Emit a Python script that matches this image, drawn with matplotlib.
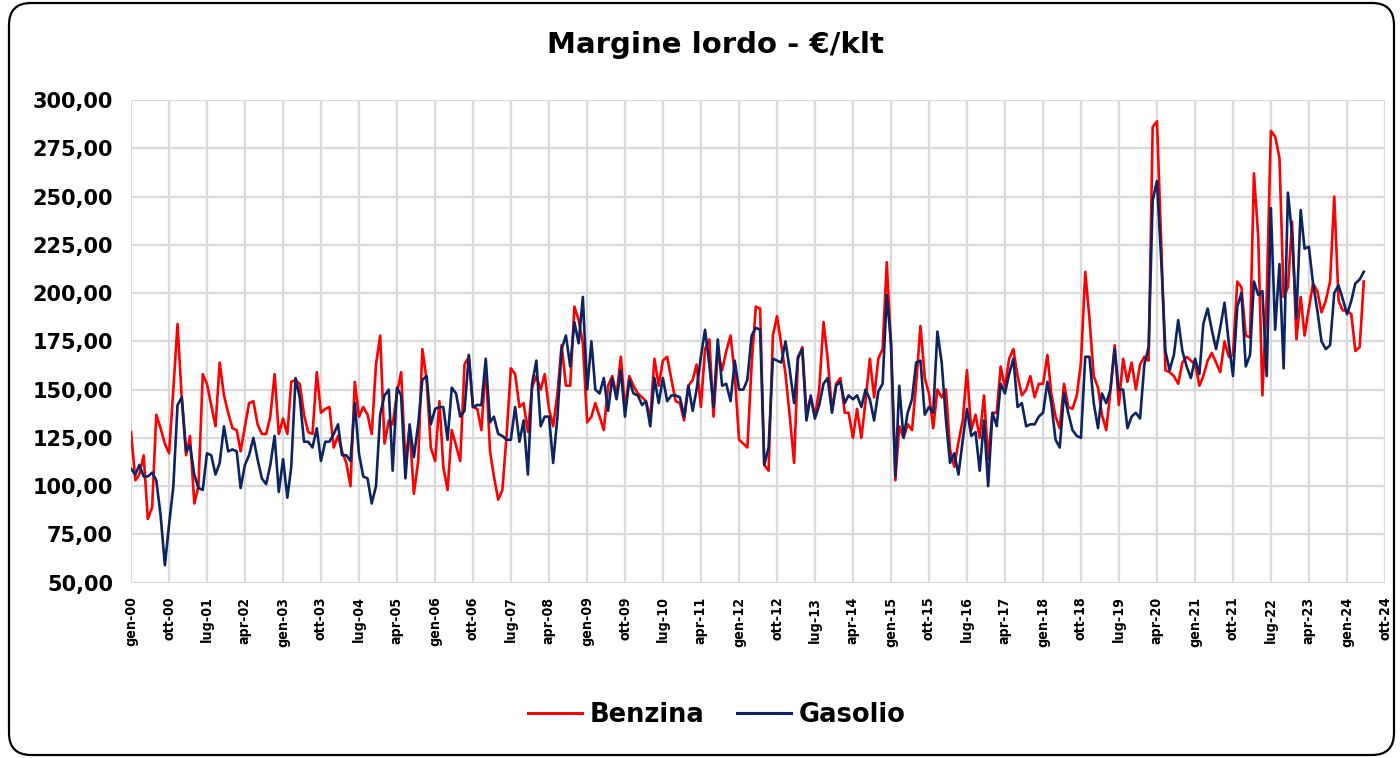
import matplotlib
matplotlib.use('Agg')
import matplotlib.pyplot as plt
from matplotlib.patches import FancyBboxPatch
from matplotlib.transforms import IdentityTransform
from matplotlib import font_manager
import pandas as pd

benzina = [
    128, 103, 106, 116, 83, 89, 137, 130, 122, 117,
    150, 184, 145, 116, 126, 91, 100, 158, 153, 142,
    131, 164, 147, 138, 130, 129, 118, 131, 143, 144,
    132, 127, 127, 136, 158, 127, 135, 127, 154, 155,
    153, 137, 128, 127, 159, 138, 140, 141, 120, 126,
    118, 112, 100, 154, 136, 141, 137, 127, 163, 178,
    122, 134, 132, 148, 159, 112, 130, 96, 113, 171,
    155, 120, 113, 144, 110, 98, 129, 121, 113, 163,
    167, 141, 140, 129, 163, 118, 105, 93, 98, 127,
    161, 158, 141, 143, 128, 151, 157, 150, 158, 140,
    131, 148, 173, 152, 152, 193, 186, 174, 133, 136,
    143, 136, 129, 152, 157, 147, 167, 140, 157, 152,
    148, 146, 144, 135, 166, 152, 165, 167, 155, 144,
    143, 134, 152, 155, 163, 141, 171, 176, 136, 169,
    160, 170, 178, 158, 124, 122, 120, 163, 193, 192,
    111, 108, 178, 188, 173, 158, 136, 112, 166, 172,
    138, 146, 136, 150, 185, 166, 139, 153, 156, 138,
    138, 125, 140, 125, 144, 166, 146, 166, 171, 216,
    172, 103, 131, 125, 132, 129, 153, 183, 156, 148,
    130, 150, 146, 150, 119, 110, 123, 134, 160, 129,
    137, 125, 147, 114, 138, 138, 162, 151, 166, 171,
    157, 147, 150, 157, 146, 153, 153, 168, 148, 136,
    130, 153, 141, 140, 147, 164, 211, 187, 157, 151,
    137, 129, 149, 173, 142, 166, 154, 164, 150, 163,
    167, 165, 286, 289, 227, 160, 159, 157, 153, 164,
    167, 165, 163, 152, 157, 165, 169, 164, 159, 175,
    167, 168, 206, 203, 178, 177, 262, 229, 147, 198,
    284, 281, 270, 198, 203, 237, 176, 198, 178, 192,
    205, 201, 190, 196, 206, 250, 196, 191, 191, 189,
    170, 172, 206,
]

gasolio = [
    109, 106, 111, 105, 105, 107, 103, 85, 59, 80,
    100, 142, 146, 118, 121, 106, 99, 98, 117, 116,
    106, 112, 131, 118, 119, 118, 99, 111, 116, 125,
    114, 104, 101, 111, 126, 97, 114, 94, 110, 156,
    146, 123, 123, 120, 130, 113, 123, 123, 127, 132,
    116, 116, 113, 143, 117, 105, 104, 91, 100, 137,
    147, 150, 108, 151, 147, 104, 132, 115, 132, 155,
    157, 132, 140, 141, 141, 124, 151, 148, 136, 139,
    168, 141, 142, 142, 166, 133, 136, 127, 126, 124,
    124, 141, 123, 134, 106, 153, 165, 131, 136, 136,
    112, 136, 171, 178, 162, 185, 174, 198, 150, 175,
    150, 148, 156, 139, 156, 145, 160, 136, 155, 148,
    147, 142, 144, 131, 156, 143, 156, 144, 147, 147,
    146, 136, 152, 139, 150, 167, 181, 163, 141, 176,
    152, 153, 144, 165, 150, 150, 155, 178, 182, 181,
    111, 120, 166, 165, 164, 175, 160, 143, 167, 171,
    134, 147, 135, 142, 153, 156, 138, 152, 154, 143,
    147, 145, 147, 141, 150, 145, 134, 149, 153, 199,
    174, 105, 152, 125, 138, 145, 164, 165, 137, 141,
    138, 180, 164, 134, 112, 117, 106, 124, 140, 126,
    128, 108, 134, 100, 138, 131, 153, 148, 158, 166,
    141, 143, 131, 132, 132, 136, 138, 154, 143, 124,
    120, 148, 138, 129, 126, 125, 167, 167, 143, 130,
    148, 143, 150, 171, 150, 150, 130, 136, 138, 135,
    163, 172, 248, 258, 218, 170, 160, 168, 186, 170,
    162, 156, 166, 158, 184, 192, 181, 171, 182, 195,
    174, 157, 193, 200, 162, 168, 206, 199, 201, 157,
    244, 181, 215, 161, 252, 230, 187, 243, 223, 224,
    205, 191, 175, 171, 173, 200, 204, 197, 189, 196,
    205, 207, 211,
]

start_date = '2000-01-01'
end_date = '2024-10-01'
mesi = ['gen', 'feb', 'mar', 'apr', 'mag', 'giu', 'lug', 'ago', 'set', 'ott', 'nov', 'dic']
y_ticks = [50, 75, 100, 125, 150, 175, 200, 225, 250, 275, 300]

dates = pd.date_range(start_date, periods=len(benzina), freq='MS')
dates_g = pd.date_range(start_date, periods=len(gasolio), freq='MS')
tick_dates = pd.date_range(start_date, end_date, freq='9MS')
tick_labels = [f"{mesi[d.month - 1]}-{d.year % 100:02d}" for d in tick_dates]

plt.rcParams['font.family'] = ['DejaVu Sans']

# condensed DejaVu for the date labels if available
has_condensed = any(f.name == 'DejaVu Sans' and str(f.stretch) in ('condensed', '87.5', 'semi-condensed')
                    and f.weight in ('bold', 700)
                    for f in font_manager.fontManager.ttflist)
if has_condensed:
    xkw = dict(fontsize=10.2, fontstretch='condensed')
else:
    xkw = dict(fontsize=9.4)

fig = plt.figure(figsize=(14, 7.58), dpi=100)
ax = fig.add_axes([0.0936, 0.2313, 0.8957, 0.6368])

ax.plot(dates, benzina, color='#ff0000', lw=1.9, label='Benzina')
ax.plot(dates_g, gasolio, color='#0c2461', lw=1.9, label='Gasolio')

ax.set_xlim(pd.Timestamp(start_date), pd.Timestamp(end_date))
ax.set_ylim(50, 300)
ax.set_yticks(y_ticks)
ax.set_yticklabels([f"{v:.2f}".replace('.', ',') for v in y_ticks],
                   fontsize=15, fontweight='bold')
ax.set_xticks(tick_dates)
ax.set_xticklabels(tick_labels, rotation=90, fontweight='bold', **xkw)
ax.tick_params(axis='both', length=0)
ax.tick_params(axis='y', pad=13)
ax.tick_params(axis='x', pad=10)
ax.grid(True, color='#d9d9d9', lw=1.6)
ax.set_axisbelow(True)
for s in ax.spines.values():
    s.set_visible(False)

fig.text(0.511, 0.94, 'Margine lordo - €/klt', ha='center', va='center',
         fontsize=21, fontweight='bold')

leg = fig.legend(loc='center', bbox_to_anchor=(0.512, 0.057), ncol=2, frameon=False,
                 prop={'size': 18.5, 'weight': 'bold'}, handlelength=2.1,
                 handletextpad=0.3, columnspacing=1.25)
for line in leg.get_lines():
    line.set_linewidth(2.2)

border = FancyBboxPatch((9, 3), 1385, 752, boxstyle='round,pad=0,rounding_size=22',
                        transform=IdentityTransform(), fill=False, edgecolor='black',
                        linewidth=1.6)
fig.patches.append(border)

fig.savefig('out.png', dpi=100)
